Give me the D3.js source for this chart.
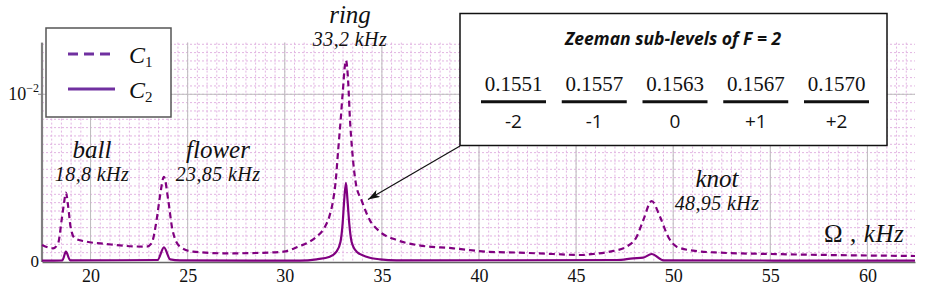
<!DOCTYPE html>
<html>
<head>
<meta charset="utf-8">
<script src="https://cdn.jsdelivr.net/npm/d3@7"></script>
<style>
	body { margin: 0; background: #fff; }
	svg { display: block; }
</style>
</head>
<body>
<div id="vis"></div>
<script>
const width = 926;
const height = 287;

// dashed curve C1
const c1Freq = [17.5, 18.07, 18.33, 18.51, 18.63, 18.73, 18.85, 18.97, 19.19, 19.79, 20.82, 21.85, 22.88,
	23.14, 23.4, 23.57, 23.78, 24.0, 24.22, 24.6, 25.28, 27.0, 28.5, 29.92, 30.78, 31.12, 31.64, 32.07,
	32.29, 32.49, 32.61, 32.75, 32.89, 32.98, 33.15, 33.27, 33.35, 33.47, 33.66, 33.95, 34.38, 34.9,
	35.76, 36.79, 38.68, 40.4, 42.1, 43.82, 45.2, 45.88, 46.74, 47.6, 48.12, 48.46, 48.89, 49.32,
	49.74, 50.18, 51.03, 52.4, 55, 58, 62.45];
const c1Amp = [0.00096, 0.00076, 0.00106, 0.00245, 0.00345, 0.0041, 0.00325, 0.00205, 0.00136, 0.00116,
	0.00102, 0.0009, 0.00086, 0.00106, 0.00245, 0.00385, 0.00505, 0.00365, 0.00186, 0.00086, 0.00056,
	0.00046, 0.00048, 0.00056, 0.0009, 0.00106, 0.00146, 0.00205, 0.00265, 0.00365, 0.00465, 0.00665,
	0.00864, 0.01004, 0.01204, 0.01064, 0.00864, 0.00665, 0.00465, 0.00365, 0.00245, 0.00176, 0.00126,
	0.00096, 0.00076, 0.00056, 0.0005, 0.00042, 0.00036, 0.00042, 0.00056, 0.00086, 0.00146, 0.00245,
	0.0036, 0.00265, 0.00146, 0.00086, 0.00062, 0.0005, 0.00042, 0.00036, 0.0003];

// solid curve C2
const c2Freq = [17.5, 18.55, 18.73, 18.95, 23.45, 23.78, 24.1, 24.6, 30.78, 31.64, 32.32, 32.66, 32.87,
	32.98, 33.06, 33.15, 33.23, 33.32, 33.44, 33.7, 34.21, 34.9, 35.76, 47.1, 47.94, 48.45, 48.89, 49.5, 62.45];
const c2Amp = [0.00002, 0.00004, 0.00056, 0.00004, 0.00006, 0.00082, 0.0001, 0.00004, 0.00002, 0.0001,
	0.00026, 0.00056, 0.00116, 0.00226, 0.00365, 0.00469, 0.00365, 0.00226, 0.00116, 0.00056, 0.00026,
	0.0001, 0.00004, 0.00006, 0.00016, 0.0002, 0.00042, 0.00004, 0.00002];

const xTicks = [20, 25, 30, 35, 40, 45, 50, 55, 60];

const peaks = [
	{name: "ball", label: "18,8 kHz", cx: 92, y: 158},
	{name: "flower", label: "23,85 kHz", cx: 218, y: 158},
	{name: "ring", label: "33,2 kHz", cx: 350, y: 23},
	{name: "knot", label: "48,95 kHz", cx: 717, y: 187}
];

const levelEnergy = ["0.1551", "0.1557", "0.1563", "0.1567", "0.1570"];
const levelM = ["-2", "-1", "0", "+1", "+2"];

const purple = "#800080";
const serif = "'Liberation Serif'";
const sans = "'Open Sans'";

const svg = d3.select("div#vis")
	.append("svg")
	.attr("width", width)
	.attr("height", height);

const x = d3.scaleLinear()
	.domain([17.5, 62.45])
	.range([42, 915]);

const y = d3.scaleLinear()
	.domain([0, 0.0131])
	.range([261, 42.6]);

const yTop = y(0.0131);

//grid
const grid = svg.append("g");

grid.selectAll("line.vminor")
	.data(d3.range(18, 62.5, 0.5))
	.enter()
	.append("line")
		.attr("x1", d => x(d))
		.attr("x2", d => x(d))
		.attr("y1", yTop)
		.attr("y2", y(0))
		.attr("stroke", "#e2b4e2")
		.attr("stroke-dasharray", "2,2");

grid.selectAll("line.hminor")
	.data(d3.range(1, 27).map(i => i * 0.0005))
	.enter()
	.append("line")
		.attr("x1", x.range()[0])
		.attr("x2", x.range()[1])
		.attr("y1", d => y(d))
		.attr("y2", d => y(d))
		.attr("stroke", "#e2b4e2")
		.attr("stroke-dasharray", "2,2");

grid.selectAll("line.vmajor")
	.data(xTicks)
	.enter()
	.append("line")
		.attr("x1", d => x(d))
		.attr("x2", d => x(d))
		.attr("y1", yTop)
		.attr("y2", y(0))
		.attr("stroke", "#bdbdbd");

grid.append("line")
	.attr("x1", x.range()[0])
	.attr("x2", x.range()[1])
	.attr("y1", y(0.01))
	.attr("y2", y(0.01))
	.attr("stroke", "#bdbdbd");

//axes
const xAxis = svg.append("g")
	.attr("transform", `translate(0, ${y(0) + 1})`)
	.call(d3.axisBottom(x).tickValues(xTicks).tickSize(0).tickPadding(7));

xAxis.attr("font-family", null);

xAxis.select(".domain")
	.attr("stroke", "#666")
	.attr("stroke-width", 1.5);

xAxis.selectAll("text")
	.style("font-family", serif)
	.style("font-size", "18px")
	.attr("fill", "#111");

svg.append("line")
	.attr("x1", 42)
	.attr("x2", 42)
	.attr("y1", yTop)
	.attr("y2", y(0) + 1)
	.attr("stroke", "#808080")
	.attr("stroke-width", 2.2);

svg.append("line")
	.attr("x1", 38)
	.attr("x2", 42)
	.attr("y1", y(0.01))
	.attr("y2", y(0.01))
	.attr("stroke", "#808080");

const tenLabel = svg.append("text")
	.style("font-family", serif)
	.attr("x", 39)
	.attr("y", y(0.01) + 6)
	.attr("text-anchor", "end")
	.style("font-size", "18px")
	.attr("fill", "#111");
tenLabel.append("tspan").text("10");
tenLabel.append("tspan")
	.style("font-size", "12px")
	.attr("dy", -8)
	.text("−2");

svg.append("text")
	.style("font-family", serif)
	.attr("x", 39)
	.attr("y", y(0) + 6)
	.attr("text-anchor", "end")
	.style("font-size", "17px")
	.attr("fill", "#111")
	.text("0");

//curves
const line = d3.line()
	.x(d => x(d[0]))
	.y(d => y(d[1]))
	.curve(d3.curveMonotoneX);

svg.append("path")
	.datum(c1Freq.map((f, i) => [f, c1Amp[i]]))
	.attr("d", line)
	.attr("fill", "none")
	.attr("stroke", purple)
	.attr("stroke-width", 2.2)
	.attr("stroke-dasharray", "6,4");

svg.append("path")
	.datum(c2Freq.map((f, i) => [f, c2Amp[i]]))
	.attr("d", line)
	.attr("fill", "none")
	.attr("stroke", purple)
	.attr("stroke-width", 2.2);

//peak labels
peaks.forEach(p => {
	svg.append("text")
		.style("font-family", serif)
		.style("font-size", "25px")
		.style("font-style", "italic")
		.attr("x", p.cx)
		.attr("y", p.y)
		.attr("text-anchor", "middle")
		.attr("fill", "#111")
		.text(p.name);
	svg.append("text")
		.style("font-family", serif)
		.style("font-size", "20px")
		.style("font-style", "italic")
		.style("letter-spacing", "0.4px")
		.attr("x", p.cx)
		.attr("y", p.y + 23)
		.attr("text-anchor", "middle")
		.attr("fill", "#111")
		.text(p.label);
});

const omega = svg.append("text")
	.style("font-family", serif)
	.style("font-size", "25px")
	.style("letter-spacing", "0.6px")
	.attr("x", 824)
	.attr("y", 242)
	.attr("fill", "#111");
omega.append("tspan").text("Ω , ");
omega.append("tspan").style("font-style", "italic").text("kHz");

//legend
const legend = svg.append("g");

legend.append("rect")
	.attr("x", 46)
	.attr("y", 28)
	.attr("width", 125)
	.attr("height", 89)
	.attr("fill", "#fff")
	.attr("stroke", "#555")
	.attr("stroke-width", 1.5);

[{dash: "10,6", sub: "1", cy: 54}, {dash: null, sub: "2", cy: 89}].forEach(l => {
	legend.append("line")
		.attr("x1", 68)
		.attr("x2", 115)
		.attr("y1", l.cy)
		.attr("y2", l.cy)
		.attr("stroke", "#7030a0")
		.attr("stroke-width", 3)
		.attr("stroke-dasharray", l.dash);
	const t = legend.append("text")
		.style("font-family", serif)
		.style("font-size", "24px")
		.style("font-style", "italic")
		.attr("x", 129)
		.attr("y", l.cy + 9)
		.attr("fill", "#111");
	t.append("tspan").text("C");
	t.append("tspan")
		.style("font-style", "normal")
		.style("font-size", "15px")
		.attr("dy", 4)
		.text(l.sub);
});

//zeeman box and arrow
svg.append("defs")
	.append("marker")
		.attr("id", "arrow")
		.attr("viewBox", "0 0 12 8")
		.attr("refX", 12)
		.attr("refY", 4)
		.attr("markerWidth", 12)
		.attr("markerHeight", 8)
		.attr("markerUnits", "userSpaceOnUse")
		.attr("orient", "auto")
		.append("path")
			.attr("d", "M0,0 L12,4 L0,8 L3,4 Z")
			.attr("fill", "#111");

svg.append("line")
	.attr("x1", 460)
	.attr("y1", 146)
	.attr("x2", 368)
	.attr("y2", 199.5)
	.attr("stroke", "#111")
	.attr("stroke-width", 1.2)
	.attr("marker-end", "url(#arrow)");

const box = svg.append("g");

box.append("rect")
	.attr("x", 460)
	.attr("y", 13.5)
	.attr("width", 427)
	.attr("height", 132)
	.attr("fill", "#fff")
	.attr("stroke", "#111")
	.attr("stroke-width", 1.5);

box.append("text")
	.style("font-family", sans)
	.style("font-size", "17.5px")
	.style("font-weight", "bold")
	.style("font-style", "italic")
	.attr("x", 673)
	.attr("y", 45)
	.attr("text-anchor", "middle")
	.attr("fill", "#111")
	.text("Zeeman sub-levels of F = 2");

const levelX = d3.scalePoint()
	.domain(levelM)
	.range([513.5, 836.5]);

box.selectAll("line.level")
	.data(levelM)
	.enter()
	.append("line")
		.attr("x1", d => levelX(d) - 32.5)
		.attr("x2", d => levelX(d) + 32.5)
		.attr("y1", 101.7)
		.attr("y2", 101.7)
		.attr("stroke", "#111")
		.attr("stroke-width", 3);

box.selectAll("text.energy")
	.data(levelEnergy)
	.enter()
	.append("text")
		.style("font-family", serif)
		.style("font-size", "21px")
		.attr("x", (d, i) => levelX(levelM[i]))
		.attr("y", 90.5)
		.attr("text-anchor", "middle")
		.attr("fill", "#111")
		.text(d => d);

box.selectAll("text.m")
	.data(levelM)
	.enter()
	.append("text")
		.style("font-family", sans)
		.style("font-size", "19px")
		.attr("x", d => levelX(d))
		.attr("y", 128)
		.attr("text-anchor", "middle")
		.attr("fill", "#111")
		.text(d => d);
</script>
</body>
</html>
